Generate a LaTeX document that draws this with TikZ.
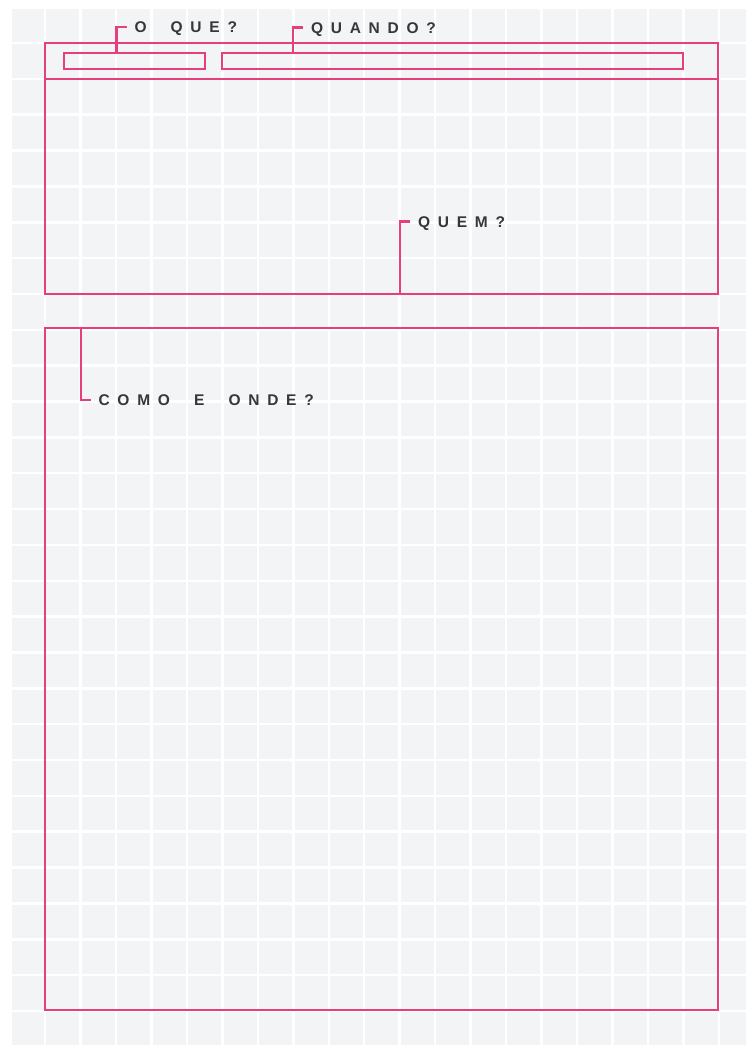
\documentclass[tikz,border=0pt]{standalone}
\usepackage{fontspec}
\usetikzlibrary{positioning}
\newfontfamily\lblfont[LetterSpace=50, WordSpace=2, BoldFont={Liberation Sans Bold}]{Liberation Sans}
\definecolor{cardpink}{RGB}{231,62,125}
\definecolor{cardgrey}{RGB}{243,244,246}
\definecolor{cardtext}{RGB}{55,55,58}

\begin{document}
\begin{tikzpicture}[x=1pt, y=-1pt,
    frame/.style={draw=cardpink, line width=2.4pt, rectangle, inner sep=0pt,
      outer sep=0pt, anchor=north west},
    callout/.style={draw=cardpink, line width=2.4pt},
    lbl/.style={anchor=west, text=cardtext, inner xsep=8pt, inner ysep=0pt,
      outer sep=0pt, text height=11.2pt, text depth=0pt,
      font=\lblfont\bfseries\fontsize{15.5}{15.5}\selectfont}]
  \useasboundingbox (0,0) rectangle (746,1045);
  \def\gx{35.47}  % cell width
  \def\gy{35.85}  % cell height
  % Grid paper
  \fill[cardgrey] (12,9) rectangle (746,1045);
  \begin{scope}
    \clip (12,9) rectangle (746,1045);
    \foreach \i in {0,1,...,19} {
      \draw[white, line width=2.5pt] (45+\i*\gx, 9) -- (45+\i*\gx, 1045);
    }
    \foreach \j in {0,1,...,27} {
      \draw[white, line width=2.5pt] (12, 43+\j*\gy) -- (746, 43+\j*\gy);
    }
  \end{scope}
  % Upper card with header band
  \node[frame, minimum width=673pt, minimum height=251pt] (topcard) at (45,43) {};
  \draw[callout] (45,79) -- (718,79);
  \node[frame, minimum width=141pt, minimum height=16pt] (oquebox) at (64,53) {};
  \node[frame, minimum width=461pt, minimum height=16pt] (quandobox) at (222,53) {};
  % Lower card
  \node[frame, minimum width=673pt, minimum height=682pt] (lowcard) at (45,328) {};
  % Labels
  \node[lbl] (oque) at (126.5,27) {O QUE?};
  \node[lbl] (quando) at (303,27.5) {QUANDO?};
  \node[lbl] (quem) at (410,221.5) {QUEM?};
  \node[lbl] (como) at (90.5,400) {COMO E ONDE?};
  % Callout feet
  \coordinate (oquefoot) at (116.5,53);
  \coordinate (quandofoot) at (293,53);
  \coordinate (quemfoot) at (400,294);
  \coordinate (comofoot) at (81,328);
  \draw[callout] (oquefoot) |- (oque.west);
  \draw[callout] (quandofoot) |- (quando.west);
  \draw[callout] (quemfoot) |- (quem.west);
  \draw[callout] (comofoot) |- (como.west);
\end{tikzpicture}
\end{document}
